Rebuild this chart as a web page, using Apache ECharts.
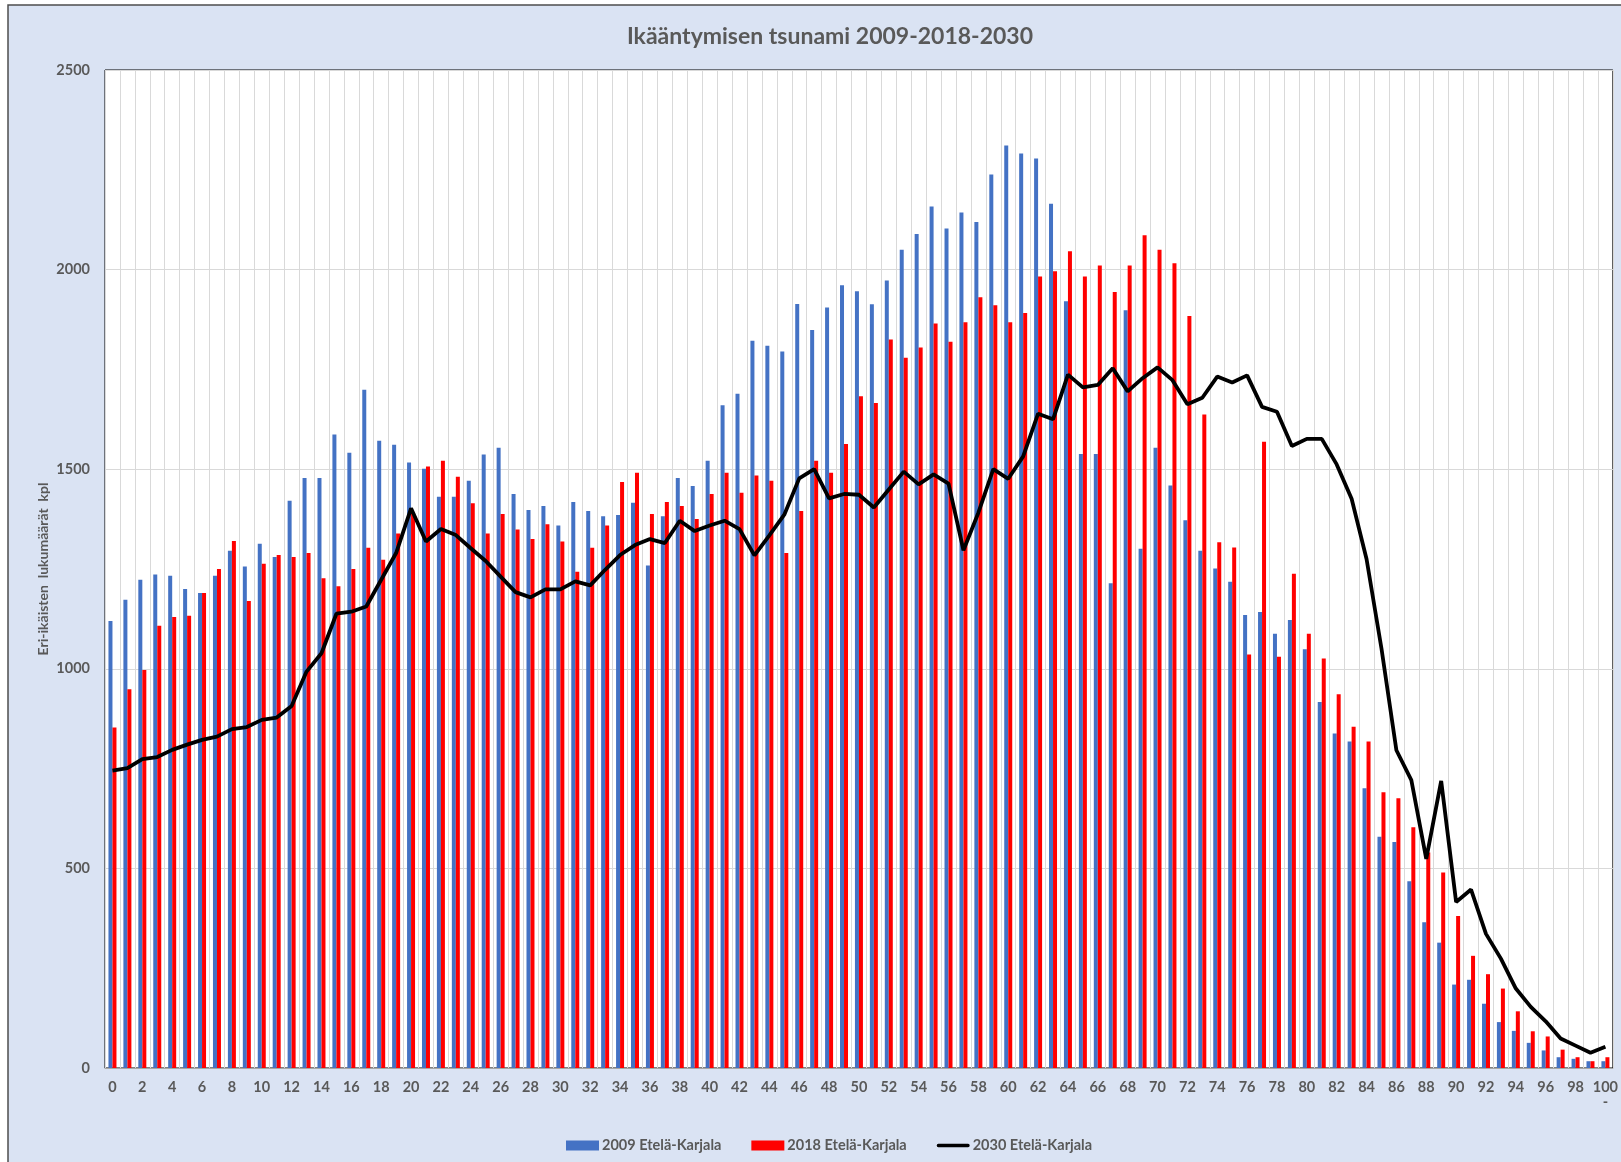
<!DOCTYPE html>
<html>
<head>
<meta charset="utf-8">
<title>Ikääntymisen tsunami 2009-2018-2030</title>
<script src="https://cdn.jsdelivr.net/npm/echarts@6/dist/echarts.min.js"></script>
<style>
  html, body { margin: 0; padding: 0; background: #fff; }
  #chart { width: 1621px; height: 1162px; }
</style>
</head>
<body>
<div id="chart"></div>
<script>
// ikä 0..100-
const ages = [
  "0", "1", "2", "3", "4", "5", "6", "7", "8", "9",
  "10", "11", "12", "13", "14", "15", "16", "17", "18", "19",
  "20", "21", "22", "23", "24", "25", "26", "27", "28", "29",
  "30", "31", "32", "33", "34", "35", "36", "37", "38", "39",
  "40", "41", "42", "43", "44", "45", "46", "47", "48", "49",
  "50", "51", "52", "53", "54", "55", "56", "57", "58", "59",
  "60", "61", "62", "63", "64", "65", "66", "67", "68", "69",
  "70", "71", "72", "73", "74", "75", "76", "77", "78", "79",
  "80", "81", "82", "83", "84", "85", "86", "87", "88", "89",
  "90", "91", "92", "93", "94", "95", "96", "97", "98", "99",
  "100-"
];

const values2009 = [
  1120, 1173, 1223, 1236, 1233, 1200, 1190, 1233, 1296, 1256,
  1313, 1280, 1421, 1478, 1478, 1587, 1541, 1699, 1571, 1561,
  1517, 1501, 1431, 1431, 1471, 1537, 1554, 1438, 1398, 1408,
  1359, 1418, 1395, 1382, 1385, 1416, 1259, 1382, 1478, 1458,
  1521, 1660, 1689, 1822, 1809, 1795, 1914, 1849, 1905, 1961,
  1946, 1913, 1973, 2050, 2089, 2158, 2103, 2143, 2119, 2238,
  2311, 2291, 2278, 2165, 1921, 1538, 1538, 1214, 1898, 1301,
  1554, 1459, 1372, 1296, 1251, 1218, 1135, 1142, 1088, 1122,
  1049, 917, 838, 818, 701, 579, 566, 468, 365, 314,
  209, 221, 161, 115, 93, 63, 44, 27, 23, 17,
  17
];

const values2018 = [
  853, 949, 997, 1108, 1130, 1133, 1190, 1250, 1320, 1170,
  1263, 1285, 1280, 1290, 1227, 1207, 1250, 1303, 1273, 1339,
  1390, 1507, 1521, 1481, 1415, 1339, 1388, 1349, 1325, 1362,
  1319, 1243, 1303, 1359, 1468, 1491, 1388, 1418, 1408, 1375,
  1438, 1491, 1441, 1484, 1471, 1290, 1395, 1521, 1491, 1563,
  1683, 1666, 1825, 1779, 1805, 1865, 1819, 1868, 1931, 1911,
  1868, 1891, 1983, 1996, 2046, 1983, 2010, 1944, 2010, 2086,
  2050, 2016, 1884, 1637, 1317, 1304, 1036, 1569, 1030, 1238,
  1088, 1026, 936, 855, 818, 691, 676, 603, 540, 490,
  381, 281, 235, 199, 142, 92, 79, 46, 27, 17,
  27
];

const values2030 = [
  745, 751, 774, 779, 797, 810, 822, 830, 849, 854,
  872, 878, 907, 993, 1039, 1138, 1143, 1156, 1223, 1290,
  1402, 1319, 1350, 1335, 1302, 1270, 1231, 1192, 1179, 1199,
  1199, 1219, 1209, 1248, 1285, 1310, 1325, 1315, 1371, 1345,
  1359, 1371, 1350, 1284, 1334, 1386, 1477, 1500, 1427, 1438,
  1436, 1404, 1449, 1494, 1462, 1487, 1464, 1297, 1391, 1500,
  1476, 1532, 1639, 1625, 1737, 1705, 1711, 1753, 1695, 1728,
  1755, 1723, 1663, 1679, 1732, 1717, 1735, 1656, 1644, 1558,
  1576, 1576, 1512, 1426, 1275, 1051, 796, 721, 524, 719,
  416, 447, 336, 274, 199, 153, 117, 74, 56, 38,
  53
];

const seriesNames = ["2009 Etelä-Karjala", "2018 Etelä-Karjala", "2030 Etelä-Karjala"];

const textGrey = "#595959";
const fontFam = "Lato, 'Open Sans', sans-serif";
// paksu viiva legendaan, ilman pistettä
const lineIcon = "path://M0,0L0.01,0Z M1.5,3 L28.5,3 A1.5,1.5 0 0 1 28.5,6 L1.5,6 A1.5,1.5 0 0 1 1.5,3 Z M30,9L29.99,9Z";

const option = {
  backgroundColor: "#ffffff",
  animation: false,
  textStyle: { fontFamily: fontFam },
  graphic: [
    {
      type: "rect",
      z: -10,
      shape: { x: 8, y: 5, width: 1660, height: 1200 },
      style: { fill: "#dae3f3", stroke: "#4d4d4d", lineWidth: 1.5 }
    }
  ],
  title: {
    text: "Ikääntymisen tsunami 2009-2018-2030",
    left: 825,
    top: 20,
    textAlign: "center",
    textStyle: {
      color: textGrey,
      fontSize: 23,
      fontWeight: "bold",
      fontFamily: fontFam
    }
  },
  legend: {
    top: 1133,
    left: 561,
    itemGap: 30,
    itemWidth: 33,
    itemHeight: 10,
    textStyle: { color: textGrey, fontSize: 14.5, fontWeight: "bold", fontFamily: fontFam, padding: [0, 0, 0, -2] },
    data: [
      { name: seriesNames[0], icon: "rect" },
      { name: seriesNames[1], icon: "rect" },
      { name: seriesNames[2], icon: lineIcon }
    ]
  },
  grid: {
    left: 105,
    top: 70,
    right: 2,
    bottom: 94,
    show: true,
    backgroundColor: "#ffffff",
    borderColor: "#000000",
    borderWidth: 1
  },
  xAxis: {
    type: "category",
    data: ages,
    boundaryGap: true,
    axisLine: { lineStyle: { color: "#a6a6a6", width: 1 } },
    axisTick: { show: false },
    splitLine: { show: true, interval: 0, lineStyle: { color: "#d9d9d9", width: 1 } },
    axisLabel: {
      interval: 1,
      color: textGrey,
      fontSize: 14.5,
      fontWeight: "bold",
      margin: 12,
      formatter: function (v) {
        return v === "100-" ? "100\n-" : v;
      }
    }
  },
  yAxis: {
    type: "value",
    min: 0,
    max: 2500,
    interval: 500,
    name: "Eri-ikäisten  lukumäärät  kpl",
    nameLocation: "middle",
    nameGap: 55,
    nameMoveOverlap: false,
    nameTextStyle: { color: textGrey, fontSize: 14, fontWeight: "bold", fontFamily: fontFam },
    axisLine: { show: false },
    axisTick: { show: false },
    splitLine: { lineStyle: { color: "#d9d9d9", width: 1 } },
    axisLabel: {
      color: textGrey,
      fontSize: 14.5,
      fontWeight: "bold",
      margin: 15,
      formatter: function (v) {
        return String(v);
      }
    }
  },
  series: [
    {
      name: seriesNames[0],
      type: "bar",
      data: values2009,
      barWidth: 4,
      barGap: "0%",
      itemStyle: { color: "#4472c4" }
    },
    {
      name: seriesNames[1],
      type: "bar",
      data: values2018,
      barWidth: 4,
      barGap: "0%",
      itemStyle: { color: "#ff0000" }
    },
    {
      name: seriesNames[2],
      type: "line",
      data: values2030,
      symbol: "none",
      z: 5,
      lineStyle: { color: "#000000", width: 3.8 },
      itemStyle: { color: "#000000" }
    }
  ]
};

const chart = echarts.init(document.getElementById("chart"));
chart.setOption(option);
</script>
</body>
</html>
